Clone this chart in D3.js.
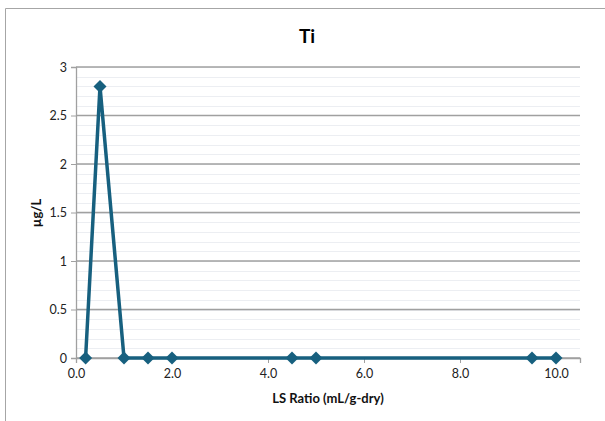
<!DOCTYPE html>
<html><head><meta charset="utf-8">
<script src="https://cdn.jsdelivr.net/npm/d3@7"></script>
<style>body{margin:0;background:#fff;} text{font-family:Lato,"Open Sans",sans-serif;}</style>
</head><body>
<svg id="c" width="605" height="421"></svg>
<script>
const title = "Ti";
const xLabel = "LS Ratio (mL/g-dry)";
const yLabel = "µg/L";
const xValues = [0.2, 0.5, 1.0, 1.5, 2.0, 4.5, 5.0, 9.5, 10.0];
const yValues = [0, 2.8, 0, 0, 0, 0, 0, 0, 0];
const xTicks = [0, 2, 4, 6, 8, 10];
const yTicks = [0, 0.5, 1, 1.5, 2, 2.5, 3];
const yMinorTicks = d3.range(0, 3.0001, 0.1);

const svg = d3.select("#c");
const L = 76, R = 580, T = 67, B = 358;
const x = d3.scaleLinear().domain([0, 10.5]).range([L, R]);
const y = d3.scaleLinear().domain([0, 3]).range([B, T]);

// outer border
svg.append("path").attr("d", "M5.5,421 V8.5 H605").attr("fill", "none").attr("stroke", "#a6a6a6").attr("stroke-width", 1);

// minor gridlines
svg.append("g").selectAll("line").data(yMinorTicks).join("line")
  .attr("x1", L).attr("x2", R).attr("y1", d => Math.round(y(d)) + 0.5).attr("y2", d => Math.round(y(d)) + 0.5)
  .attr("stroke", "#eceef2").attr("stroke-width", 1);
// major gridlines
svg.append("g").selectAll("line").data(yTicks).join("line")
  .attr("x1", L).attr("x2", R).attr("y1", d => y(d)).attr("y2", d => y(d))
  .attr("stroke", "#a0a0a0").attr("stroke-width", 1.3);

// y axis
const yAxis = d3.axisLeft(y).tickValues(yTicks).tickSize(5).tickPadding(4).tickFormat(d3.format("~g"));
const gy = svg.append("g").attr("transform", `translate(${L},0)`).call(yAxis);
gy.select(".domain").attr("stroke", "#a0a0a0").attr("stroke-width", 1.3);
gy.selectAll(".tick line").attr("stroke", "#a0a0a0");
gy.selectAll("text").attr("font-size", 12.5).attr("fill", "#222").style("font-family", "Lato, 'Open Sans', sans-serif");

// x axis
const xAxis = d3.axisBottom(x).tickValues(xTicks).tickSize(5).tickPadding(6).tickFormat(d3.format(".1f"));
const gx = svg.append("g").attr("transform", `translate(0,${B})`).call(xAxis);
gx.select(".domain").attr("stroke", "#a0a0a0").attr("stroke-width", 1.3);
gx.selectAll(".tick line").attr("stroke", "#a0a0a0");
gx.selectAll("text").attr("font-size", 12.5).attr("fill", "#222").style("font-family", "Lato, 'Open Sans', sans-serif");

// line
const data = xValues.map((v, i) => [v, yValues[i]]);
svg.append("path").datum(data)
  .attr("d", d3.line().x(d => x(d[0])).y(d => y(d[1])))
  .attr("fill", "none").attr("stroke", "#17607f").attr("stroke-width", 3.5).attr("stroke-linejoin", "miter");

// markers
svg.append("g").selectAll("path").data(data).join("path")
  .attr("transform", d => `translate(${x(d[0])},${y(d[1])})`)
  .attr("d", "M0,-6.5 L6.5,0 L0,6.5 L-6.5,0 Z")
  .attr("fill", "#17607f");

// title
svg.append("text").attr("x", 307).attr("y", 43).attr("text-anchor", "middle")
  .attr("font-size", 19).attr("font-weight", "bold").attr("fill", "#000").text(title);
// x label
svg.append("text").attr("x", 328).attr("y", 403).attr("text-anchor", "middle")
  .attr("font-size", 13).attr("font-weight", "bold").attr("fill", "#111").text(xLabel);
// y label
svg.append("text").attr("transform", "translate(41,213) rotate(-90)").attr("text-anchor", "middle")
  .attr("font-size", 13).attr("font-weight", "bold").attr("fill", "#111").text(yLabel);
</script>
</body></html>
